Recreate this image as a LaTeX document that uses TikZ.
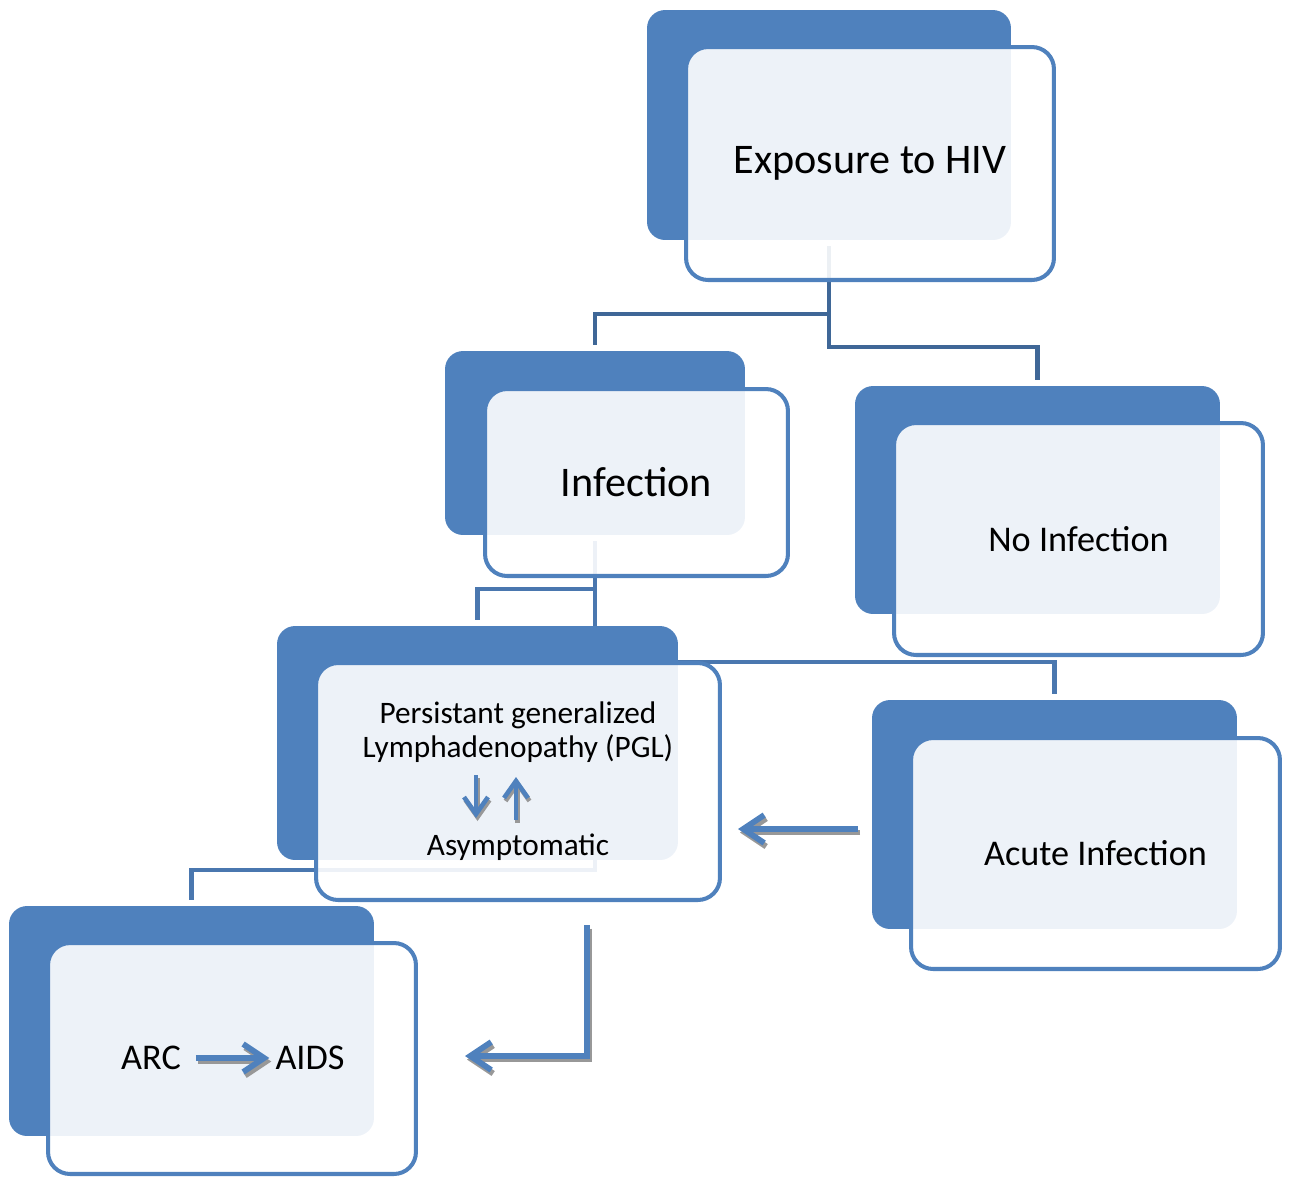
\documentclass[tikz,border=0pt]{standalone}
\usepackage{fontspec}
\setmainfont{Carlito}
\usetikzlibrary{arrows.meta,backgrounds}

\definecolor{hivblue}{HTML}{4F81BD}
\definecolor{hivdark}{HTML}{3F6797}
\definecolor{hivline}{HTML}{4A77AF}
\definecolor{hivshade}{HTML}{989898}

\begin{document}
\begin{tikzpicture}[x=0.02cm,y=-0.02cm,
  back/.style={fill=hivblue, rounded corners=0.36cm, inner sep=0pt},
  front/.style={draw=hivblue, line width=2.3pt, fill=white, fill opacity=0.9,
    text opacity=1, rounded corners=0.44cm, align=center, inner sep=0pt},
  conn/.style={line width=2.3pt, shorten <=0.12cm, shorten >=0.12cm},
  shade/.style={draw=hivshade, line width=3.3pt,
    -{Straight Barb[length=0.42cm,width=0.56cm,line width=3.3pt]}},
  blockarrow/.style={draw=hivblue, line width=3.3pt,
    -{Straight Barb[length=0.42cm,width=0.56cm,line width=3.3pt]}},
  shadesmall/.style={draw=hivshade, line width=2.6pt,
    -{Straight Barb[length=0.34cm,width=0.48cm,line width=2.6pt]}},
  smallarrow/.style={draw=hivblue, line width=2.6pt,
    -{Straight Barb[length=0.34cm,width=0.48cm,line width=2.6pt]}},
  big/.style={font=\fontsize{24}{29}\selectfont},
  mid/.style={font=\fontsize{20.6}{25}\selectfont},
  small/.style={font=\fontsize{17.8}{19.3}\selectfont}
]

\useasboundingbox (0,0) rectangle (1289,1178);

% Exposure to HIV
\node[back, minimum width=7.28cm, minimum height=4.6cm] (expoB) at (829,125) {};
\node[front, big, minimum width=7.36cm, minimum height=4.66cm] (expo) at (870,163.5) {Exposure to HIV};

% Infection
\node[back, minimum width=6cm, minimum height=3.68cm] (infB) at (595,443) {};
\node[front, big, minimum width=6.06cm, minimum height=3.74cm] (inf) at (636.5,482.5) {Infection};

% No Infection
\node[back, minimum width=7.3cm, minimum height=4.56cm] (noinfB) at (1037.5,500) {};
\node[front, mid, minimum width=7.38cm, minimum height=4.64cm] (noinf) at (1078.5,539) {No Infection};

% Persistant generalized lymphadenopathy
\node[back, minimum width=8.02cm, minimum height=4.68cm] (pglB) at (477.5,743) {};
\node[front, minimum width=8.08cm, minimum height=4.74cm] (pgl) at (518,781.5) {};
\node[small, align=center] (pglTxt) at (518,732) {Persistant generalized\\Lymphadenopathy (PGL)};
\node[small] (asymTxt) at (518,847) {Asymptomatic};

% Acute Infection
\node[back, minimum width=7.3cm, minimum height=4.58cm] (acuteB) at (1054.5,814.5) {};
\node[front, mid, minimum width=7.38cm, minimum height=4.62cm] (acute) at (1095.5,853.5) {Acute Infection};

% ARC and AIDS
\node[back, minimum width=7.3cm, minimum height=4.6cm] (arcB) at (191.5,1021) {};
\node[front, minimum width=7.36cm, minimum height=4.62cm] (arc) at (232,1058.5) {};
\node[mid] (arcTxt) at (151,1058) {ARC};
\node[mid] (aidsTxt) at (310,1058) {AIDS};

% connectors behind the boxes
\begin{scope}[on background layer]
\draw[conn, hivdark] (expoB.south) -- ++(0,74) -| (infB.north);
\draw[conn, hivdark] (expoB.south) -- ++(0,107) -| (noinfB.north);
\draw[conn, hivline] (infB.south) -- ++(0,54) -| (pglB.north);
\draw[conn, hivline] (infB.south) -- ++(0,127) -| (acuteB.north);
\draw[conn, hivline] (infB.south) -- ++(0,335) -| (arcB.north);
\end{scope}

% block arrows, grey shadow first
\coordinate (acuteOut) at (858,829);
\coordinate (pglIn) at (738,829);
\coordinate (pglOut) at (587,925);
\coordinate (arcIn) at (465,1056);
\begin{scope}[transform canvas={shift={(2,3.5)}}]
\draw[shade] (acuteOut) -- (pglIn);
\draw[shade] (pglOut) |- (arcIn);
\draw[shade, shorten <=0.18cm] (arcTxt.east) -- (aidsTxt.west);
\end{scope}
\draw[blockarrow] (acuteOut) -- (pglIn);
\draw[blockarrow] (pglOut) |- (arcIn);
\draw[blockarrow, shorten <=0.18cm] (arcTxt.east) -- (aidsTxt.west);

% PGL <-> Asymptomatic
\coordinate (downTop) at (476,775);
\coordinate (downEnd) at (476,818);
\coordinate (upBot) at (516,820);
\coordinate (upEnd) at (516,777);
\begin{scope}[transform canvas={shift={(1.5,3)}}]
\draw[shadesmall] (downTop) -- (downEnd);
\draw[shadesmall] (upBot) -- (upEnd);
\end{scope}
\draw[smallarrow] (downTop) -- (downEnd);
\draw[smallarrow] (upBot) -- (upEnd);

\end{tikzpicture}
\end{document}
